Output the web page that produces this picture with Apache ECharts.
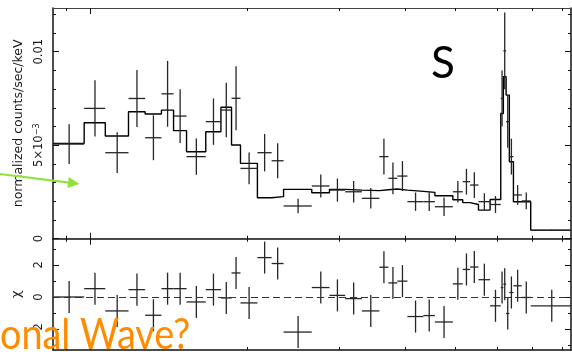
<!DOCTYPE html>
<html>
<head>
<meta charset="utf-8">
<script src="https://cdn.jsdelivr.net/npm/echarts@6/dist/echarts.min.js"></script>
<style>
  html, body { margin: 0; padding: 0; background: #fff; }
  #chart { width: 572px; height: 352px; }
</style>
</head>
<body>
<div id="chart"></div>
<script>
// Energy bin edges (keV), shared by the spectrum and the residual panel
const energyEdges = [0.85, 0.975, 1.07, 1.185, 1.275, 1.37, 1.445, 1.53, 1.665, 1.78,
  1.865, 1.94, 2.09, 2.225, 2.345, 2.655, 2.87, 3.075, 3.31, 3.575,
  3.72, 3.87, 4.045, 4.34, 4.565, 4.94, 5.16, 5.33, 5.53, 5.82,
  6.10, 6.17, 6.245, 6.335, 6.45, 6.69, 6.96, 8.31];

// Normalized count rate per bin (counts/sec/keV) and its 1-sigma error
const rate = [5.06e-3, 6.97e-3, 4.60e-3, 7.50e-3, 5.40e-3, 7.75e-3, 6.56e-3, 4.39e-3, 6.26e-3, 6.88e-3,
  7.51e-3, 3.76e-3, 4.60e-3, 4.17e-3, 1.75e-3, 2.82e-3, 2.60e-3, 2.51e-3, 2.16e-3, 4.39e-3,
  3.23e-3, 3.35e-3, 1.98e-3, 1.98e-3, 1.71e-3, 2.51e-3, 3.05e-3, 2.87e-3, 1.98e-3, 1.83e-3,
  7.50e-3, 10.05e-3, 6.26e-3, 4.39e-3, 2.34e-3, 2.02e-3, 0.45e-3];
const rateErr = [1.06e-3, 1.50e-3, 1.09e-3, 1.53e-3, 1.20e-3, 1.76e-3, 1.44e-3, 0.97e-3, 1.24e-3, 1.46e-3,
  1.71e-3, 0.85e-3, 1.00e-3, 0.94e-3, 0.39e-3, 0.62e-3, 0.62e-3, 0.58e-3, 0.55e-3, 0.95e-3,
  0.85e-3, 0.80e-3, 0.49e-3, 0.50e-3, 0.49e-3, 0.58e-3, 0.69e-3, 0.69e-3, 0.45e-3, 0.45e-3,
  1.50e-3, 2.05e-3, 1.40e-3, 0.96e-3, 0.53e-3, 0.45e-3, 0.04e-3];

// Folded model, one level per bin
const modelRate = [5.10e-3, 6.20e-3, 5.49e-3, 6.79e-3, 6.67e-3, 6.88e-3, 5.78e-3, 4.65e-3, 5.72e-3, 7.03e-3,
  5.01e-3, 4.03e-3, 2.19e-3, 2.25e-3, 2.64e-3, 2.46e-3, 2.64e-3, 2.60e-3, 2.57e-3, 2.62e-3,
  2.66e-3, 2.60e-3, 2.53e-3, 2.48e-3, 2.30e-3, 2.08e-3, 1.93e-3, 1.83e-3, 1.53e-3, 2.10e-3,
  6.70e-3, 8.66e-3, 7.68e-3, 4.12e-3, 1.98e-3, 1.98e-3, 0.46e-3];

// Residuals in units of sigma
const chi = [0.00, 0.52, -0.87, 0.46, -1.14, 0.52, 0.52, -0.31, 0.46, -0.06,
  1.50, -0.37, 2.46, 2.09, -2.19, 0.59, 0.10, -0.10, -0.87, 1.86,
  0.88, 0.99, -1.22, -1.16, -1.56, 0.82, 1.72, 1.87, 1.08, -0.55,
  0.59, 0.80, -1.03, 0.28, 0.70, -0.03, -0.55];

// Axis ranges and ticks
const energyRange = [0.85, 8.31];
const majorEnergyTicks = [1];
const minorEnergyTicks = [0.9, 2, 3, 4, 5, 6, 7, 8];
const rateRange = [0, 0.01234];
const rateMajorTicks = [0, 0.005, 0.01];
const rateMinorTicks = [0.001, 0.002, 0.003, 0.004, 0.006, 0.007, 0.008, 0.009, 0.011, 0.012];
const rateTickLabels = ['{n|0}', '{n|5×10}{sup|−3}', '{n|0.01}'];
const chiRange = [-3.31, 3.64];
const chiMajorTicks = [-2, 0, 2];
const chiMinorTicks = [-3, -1, 1, 3];
const chiTickLabels = ['{n|-2}', '{n|0}', '{n|2}'];

const ink = '#111';
const labelFont = 'DejaVu Sans';

function energyAxes(grid) {
  const base = {
    type: 'log', logBase: 10, gridIndex: grid,
    min: energyRange[0], max: energyRange[1],
    splitLine: { show: false }, axisLabel: { show: false }
  };
  const line = { onZero: false, lineStyle: { color: ink, width: 1.5 } };
  const tick = (vals, len) => ({ inside: true, length: len, customValues: vals, lineStyle: { color: ink, width: 1 } });
  return [
    { ...base, position: 'bottom', axisLine: line, axisTick: tick(majorEnergyTicks, 6) },
    { ...base, position: 'bottom', axisLine: { show: false, onZero: false }, axisTick: tick(minorEnergyTicks, 3) },
    { ...base, position: 'top', axisLine: { onZero: false, lineStyle: { color: '#444', width: 1.1 } }, axisTick: tick(majorEnergyTicks, 6) },
    { ...base, position: 'top', axisLine: { show: false, onZero: false }, axisTick: tick(minorEnergyTicks, 3) }
  ];
}

function valueAxes(grid, range, majors, minors, labels, name, nameGap, nameSize) {
  const base = { type: 'value', gridIndex: grid, min: range[0], max: range[1], splitLine: { show: false } };
  const line = { onZero: false, lineStyle: { color: ink, width: 1.5 } };
  const tick = (vals, len) => ({ inside: true, length: len, customValues: vals, lineStyle: { color: ink, width: 1 } });
  return [
    {
      ...base, position: 'left',
      name: name, nameLocation: 'middle', nameGap: nameGap,
      nameTextStyle: { fontFamily: labelFont, fontSize: nameSize, color: '#1a1a1a' },
      axisLine: line, axisTick: tick(majors, 6),
      axisLabel: {
        customValues: majors, rotate: 90, margin: 8,
        formatter: (v) => labels[majors.findIndex((m) => Math.abs(m - v) < 1e-9)] || '',
        rich: {
          n: { fontFamily: labelFont, fontSize: 11.5, color: '#1a1a1a' },
          sup: { fontFamily: labelFont, fontSize: 8, color: '#1a1a1a', verticalAlign: 'top' }
        }
      }
    },
    { ...base, position: 'left', axisLine: { show: false, onZero: false }, axisTick: tick(minors, 3), axisLabel: { show: false } },
    { ...base, position: 'right', axisLine: line, axisTick: tick(majors, 6), axisLabel: { show: false } },
    { ...base, position: 'right', axisLine: { show: false, onZero: false }, axisTick: tick(minors, 3), axisLabel: { show: false } }
  ];
}

// Crosses: horizontal bar over the bin, vertical bar over the error
function crossItem(params, api) {
  const lo = api.value(0), hi = api.value(1), y = api.value(2), err = api.value(3);
  const mid = (lo + hi) / 2;
  const a = api.coord([lo, y]), b = api.coord([hi, y]);
  const t = api.coord([mid, y + err]), u = api.coord([mid, y - err]);
  const style = { stroke: '#262626', lineWidth: 1.3 };
  return {
    type: 'group',
    children: [
      { type: 'line', shape: { x1: a[0], y1: a[1], x2: b[0], y2: b[1] }, style },
      { type: 'line', shape: { x1: t[0], y1: t[1], x2: u[0], y2: u[1] }, style }
    ]
  };
}

const spectrumData = rate.map((r, i) => [energyEdges[i], energyEdges[i + 1], r, rateErr[i]]);
const residualData = chi.map((c, i) => [energyEdges[i], energyEdges[i + 1], c, 1]);
const modelSteps = modelRate.flatMap((m, i) => [[energyEdges[i], m], [energyEdges[i + 1], m]]);

const chart = echarts.init(document.getElementById('chart'), null, { renderer: 'canvas' });
chart.setOption({
  animation: false,
  backgroundColor: '#fff',
  grid: [
    { left: 53, right: 1, top: 8, height: 230.7 },
    { left: 53, right: 1, top: 238.7, height: 111.3 }
  ],
  xAxis: [...energyAxes(0), ...energyAxes(1)],
  yAxis: [
    ...valueAxes(0, rateRange, rateMajorTicks, rateMinorTicks, rateTickLabels, 'normalized counts/sec/keV', 28, 12.5),
    ...valueAxes(1, chiRange, chiMajorTicks, chiMinorTicks, chiTickLabels, 'χ', 30, 13)
  ],
  series: [
    {
      type: 'line', xAxisIndex: 0, yAxisIndex: 0,
      data: modelSteps, showSymbol: false, symbol: 'none',
      lineStyle: { color: '#000', width: 1.4 }, z: 3
    },
    {
      type: 'custom', xAxisIndex: 0, yAxisIndex: 0,
      data: spectrumData, encode: { x: [0, 1], y: [2] },
      renderItem: crossItem, z: 4
    },
    {
      type: 'custom', xAxisIndex: 4, yAxisIndex: 4,
      data: residualData, encode: { x: [0, 1], y: [2] },
      renderItem: crossItem, z: 4,
      markLine: {
        silent: true, symbol: 'none', label: { show: false },
        lineStyle: { color: '#333', width: 1.2, type: [7, 4] },
        data: [{ yAxis: 0 }]
      }
    }
  ],
  graphic: [
    {
      type: 'text', x: 443, y: 64, z: 100,
      style: { text: 'S', fontFamily: 'Lato', fontSize: 44, fill: '#000', align: 'center', verticalAlign: 'middle' }
    },
    {
      type: 'line', z: 100,
      shape: { x1: 0, y1: 174, x2: 69, y2: 182.7 },
      style: { stroke: '#93e03f', lineWidth: 2.2 }
    },
    {
      type: 'polygon', z: 100,
      shape: { points: [[79.5, 184], [68.8, 177.1], [67.4, 188.0]] },
      style: { fill: '#93e03f' }
    },
    {
      type: 'text', x: 0, y: 335, z: 100, scaleX: 0.9,
      style: { text: 'onal Wave?', fontFamily: 'Lato', fontSize: 42, fill: '#ff8c00', align: 'left', verticalAlign: 'middle' }
    }
  ]
});
</script>
</body>
</html>
